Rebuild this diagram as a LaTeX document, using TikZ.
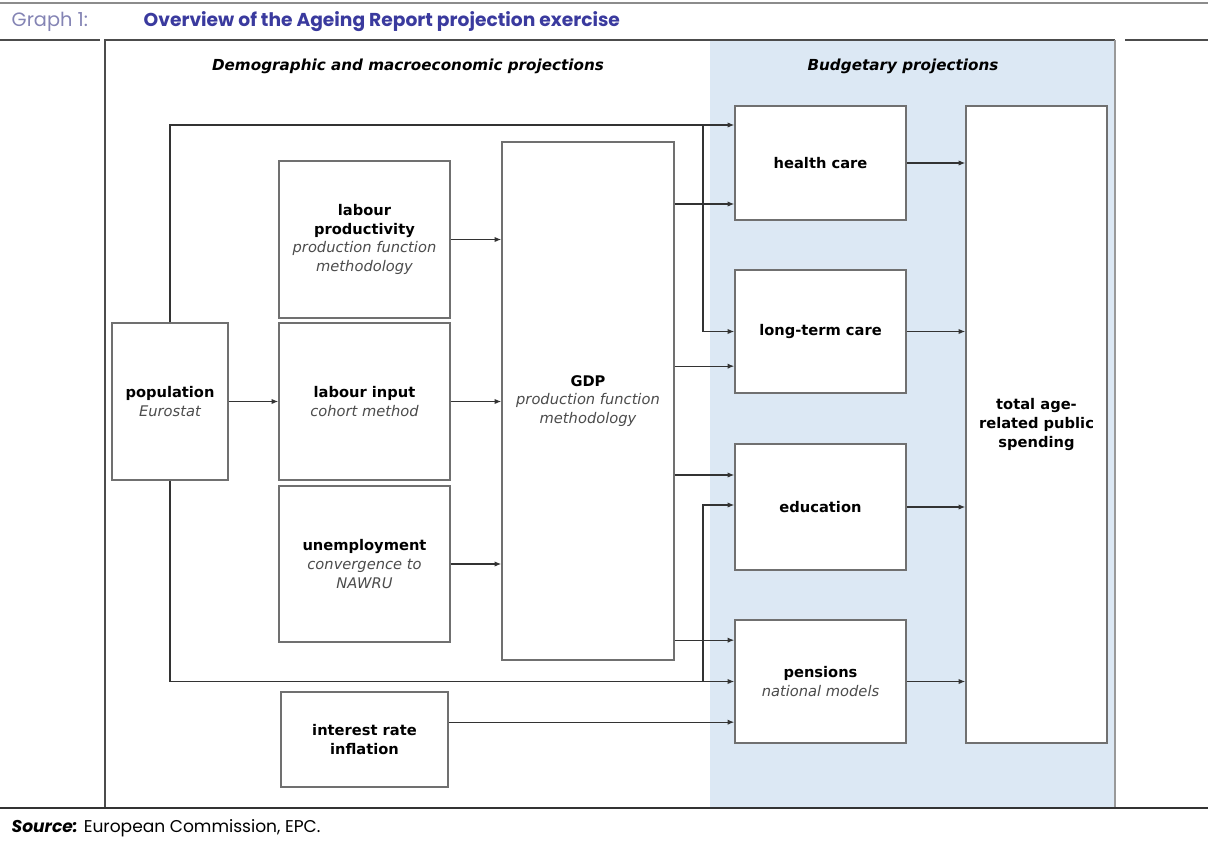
\documentclass[tikz,border=0pt]{standalone}
\usepackage{fontspec}
\setmainfont{DejaVu Sans}
\newfontfamily\gothfont{Poppins}
\usetikzlibrary{arrows.meta}
\definecolor{panelblue}{HTML}{DCE8F4}
\definecolor{linegray}{HTML}{707070}
\definecolor{titleblue}{HTML}{3A3A9E}
\definecolor{graphgray}{HTML}{8484B4}
\begin{document}
\begin{tikzpicture}[x=0.75pt,y=-0.75pt,
    box/.style={draw=linegray, line width=1.1pt, fill=white, align=center,
                inner sep=2pt, font=\fontsize{11}{14}\selectfont},
    arr/.style={draw=black!80, line width=0.9pt, -{Latex[length=5pt,width=4pt]}},
    sub/.style={font=\fontsize{11}{14}\selectfont\itshape, text=black!70}]
    \useasboundingbox (0,0) rectangle (1208,843);
    % header and frame
    \draw[black!45, line width=2.2pt] (0,3) -- (1208,3);
    \node[anchor=west, text=graphgray, font=\gothfont\fontsize{14.5}{16}\selectfont] (graph) at (7,22) {Graph 1:};
    \node[anchor=west, text=titleblue, font=\gothfont\bfseries\fontsize{14}{16}\selectfont] (title) at (139,22) {Overview of the Ageing Report projection exercise};
    \fill[panelblue] (710,40) rectangle (1115,808);
    \draw[black!70, line width=1.3pt] (0,40) -- (100,40);
    \draw[black!70, line width=1.3pt] (1125,40) -- (1208,40);
    \draw[black!70, line width=1.3pt] (105,808) -- (105,40) -- (1115,40);
    \draw[black!40, line width=1.1pt] (1115,40) -- (1115,808);
    \draw[black!80, line width=1.4pt] (0,808) -- (1208,808);
    \node[font=\bfseries\itshape\fontsize{11.4}{13}\selectfont] (demo) at (408,66) {Demographic and macroeconomic projections};
    \node[font=\bfseries\itshape\fontsize{11.4}{13}\selectfont] (budg) at (903,66) {Budgetary projections};
    % left column
    \node[box, minimum width=116*0.75pt, minimum height=157*0.75pt] (pop) at (170,401.5)
        {\textbf{population}\\{\itshape\color{black!70}Eurostat}};
    \node[box, minimum width=171*0.75pt, minimum height=157*0.75pt] (lprod) at (364.5,239.5)
        {\textbf{labour}\\\textbf{productivity}\\{\itshape\color{black!70}production function}\\{\itshape\color{black!70}methodology}};
    \node[box, minimum width=171*0.75pt, minimum height=157*0.75pt] (linput) at (364.5,401.5)
        {\textbf{labour input}\\{\itshape\color{black!70}cohort method}};
    \node[box, minimum width=171*0.75pt, minimum height=156*0.75pt] (unemp) at (364.5,564)
        {\textbf{unemployment}\\{\itshape\color{black!70}convergence to}\\{\itshape\color{black!70}NAWRU}};
    \node[box, minimum width=167*0.75pt, minimum height=95*0.75pt] (inter) at (364.5,739.5)
        {\textbf{interest rate}\\\textbf{inflation}};
    \node[box, minimum width=172*0.75pt, minimum height=518*0.75pt] (gdp) at (588,401)
        {\textbf{GDP}\\{\itshape\color{black!70}production function}\\{\itshape\color{black!70}methodology}};
    % budgetary column
    \node[box, minimum width=171*0.75pt, minimum height=114*0.75pt] (hc) at (820.5,163) {\textbf{health care}};
    \node[box, minimum width=171*0.75pt, minimum height=123*0.75pt] (ltc) at (820.5,331.5) {\textbf{long-term care}};
    \node[box, minimum width=171*0.75pt, minimum height=126*0.75pt] (edu) at (820.5,507) {\textbf{education}};
    \node[box, minimum width=171*0.75pt, minimum height=123*0.75pt] (pen) at (820.5,681.5)
        {\textbf{pensions}\\{\itshape\color{black!70}national models}};
    \node[box, minimum width=141*0.75pt, minimum height=637*0.75pt] (total) at (1036.5,424.5)
        {\textbf{total age-}\\\textbf{related public}\\\textbf{spending}};
    % population buses
    \coordinate (busT) at (703,125);
    \coordinate (busB) at (703,681.5);
    \draw[arr] (pop.north) |- (hc.west |- busT);
    \draw[arr] (busT) |- (ltc.west);
    \draw[arr] (pop.south) |- (pen.west);
    \draw[arr] (busB) |- ([yshift=1.5pt]edu.west);
    \draw[arr] (pop.east) -- (linput.west);
    % into GDP
    \draw[arr] (lprod.east) -- (lprod.east -| gdp.west);
    \draw[arr] (linput.east) -- (linput.east -| gdp.west);
    \draw[arr] (unemp.east) -- (unemp.east -| gdp.west);
    % out of GDP
    \draw[arr] ([yshift=-30.75pt]hc.west -| gdp.east) -- ([yshift=-30.75pt]hc.west);
    \draw[arr] ([yshift=-26pt]ltc.west -| gdp.east) -- ([yshift=-26pt]ltc.west);
    \draw[arr] ([yshift=24pt]edu.west -| gdp.east) -- ([yshift=24pt]edu.west);
    \draw[arr] ([yshift=31pt]pen.west -| gdp.east) -- ([yshift=31pt]pen.west);
    \draw[arr] ([yshift=-30.5pt]pen.west -| inter.east) -- ([yshift=-30.5pt]pen.west);
    % into total
    \foreach \n in {hc,ltc,edu,pen}
        \draw[arr] (\n.east) -- (\n.east -| total.west);
    % source
    \node[anchor=west, font=\gothfont\fontsize{12.8}{14}\selectfont] (src) at (7,828)
        {\textbf{\itshape Source:} European Commission, EPC.};
\end{tikzpicture}
\end{document}
